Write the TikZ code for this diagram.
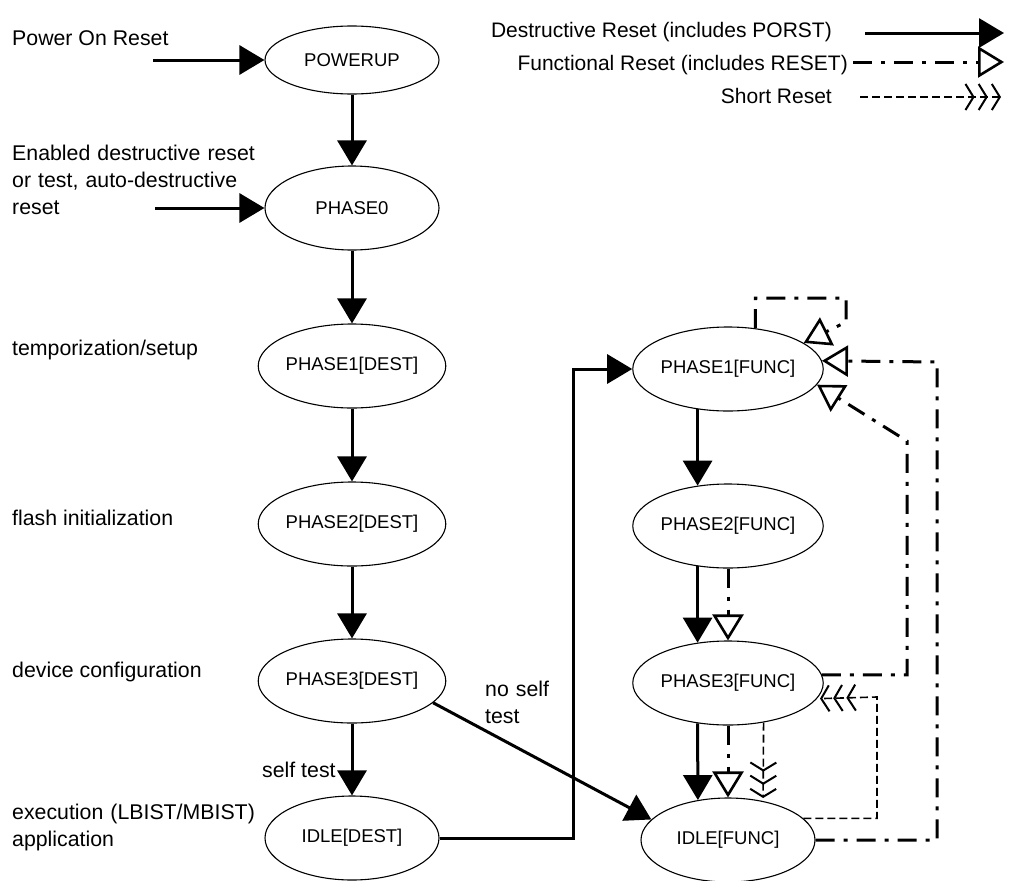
\documentclass[tikz,border=0pt]{standalone}
\usepackage{fontspec}
\setmainfont{Liberation Sans}
\usetikzlibrary{shapes.geometric,arrows.meta}
\begin{document}
\begin{tikzpicture}[x=1pt,y=-1pt,
  state/.style={ellipse,draw,line width=1.1pt,minimum width=174pt,minimum height=84pt,inner sep=0pt,font=\fontsize{18.5pt}{22pt}\selectfont},
  lbl/.style={anchor=base west,inner sep=0pt,font=\fontsize{21.3pt}{27pt}\selectfont},
  lblr/.style={anchor=base east,inner sep=0pt,font=\fontsize{21pt}{26pt}\selectfont},
  dest/.style={line width=3pt,-{Triangle[length=25pt,width=29pt]}},
  func/.style={line width=3pt,dash pattern=on 19pt off 9pt on 4pt off 9pt,-{Triangle[fill=white,length=26pt,width=31pt,line width=2.6pt]}},
  barb/.style={-{Straight Barb[length=8pt,width=26pt,sep=3pt,line width=2pt] Straight Barb[length=8pt,width=26pt,sep=3pt,line width=2pt] Straight Barb[length=8pt,width=26pt,sep=3pt,line width=2pt]}},
  short/.style={line width=1.6pt,dash pattern=on 8pt off 4pt,barb},
]
\useasboundingbox (0,0) rectangle (1010,881);

% states
\node[state,minimum height=68pt] (pu) at (352,60) {POWERUP};
\node[state] (p0) at (352,208) {PHASE0};
\node[state] (p1d) at (352,366) {PHASE1[DEST]};
\node[state] (p2d) at (352,524) {PHASE2[DEST]};
\node[state] (p3d) at (352,681) {PHASE3[DEST]};
\node[state] (idd) at (352,838) {IDLE[DEST]};
\node[state] (p1f) at (728,369) {PHASE1[FUNC]};
\node[state] (p2f) at (728,526) {PHASE2[FUNC]};
\node[state] (p3f) at (728,683) {PHASE3[FUNC]};
\node[state] (idf) at (728,840) {IDLE[FUNC]};

% left labels
\node[lbl] (tpor) at (12,45) {Power On Reset};
\node[lbl,text width=260pt,align=left] (tedr) at (12,160) {Enabled destructive reset\\or test, auto-destructive\\reset};
\node[lbl] (ttemp) at (12,355) {temporization/setup};
\node[lbl] (tflash) at (12,525) {flash initialization};
\node[lbl] (tdev) at (12,677) {device configuration};
\node[lbl,text width=260pt,align=left] (texec) at (12,819) {execution (LBIST/MBIST)\\application};
\node[lbl] (tself) at (262,777) {self test};
\node[lbl,text width=100pt,align=left] (tnst) at (485,696) {no self\\test};

% legend
\node[lblr] (l1) at (832,37) {Destructive Reset (includes PORST)};
\node[lblr] (l2) at (848,70) {Functional Reset (includes RESET)};
\node[lblr] (l3) at (832,103) {Short Reset};
\coordinate (l1a) at (865,33); \coordinate (l1b) at (1004,33);
\coordinate (l2a) at (853,62); \coordinate (l2b) at (1004,62);
\coordinate (l3a) at (860,97); \coordinate (l3b) at (1004,97);
\draw[dest] (l1a) -- (l1b);
\draw[func] (l2a) -- (l2b);
\draw[short] (l3a) -- (l3b);

% inputs
\coordinate (in1) at (153,60);
\coordinate (in2) at (155,208);
\draw[dest] (in1) -- (pu.west);
\draw[dest] (in2) -- (p0.west);

% destructive chain
\draw[dest] (pu) -- (p0);
\draw[dest] (p0) -- (p1d);
\draw[dest] (p1d) -- (p2d);
\draw[dest] (p2d) -- (p3d);
\draw[dest] (p3d) -- (idd);
\coordinate (j1) at (573,369);
\draw[dest] (idd.east) -| (j1) -- (p1f.west);
\draw[dest] (p3d.-15) -- (idf.165);

% functional chain
\draw[dest] (p1f.233) -- (p2f.127);
\draw[dest] (p2f.233) -- (p3f.127);
\draw[func] (p2f.south) -- (p3f.north);
\draw[dest] (p3f.233) -- (idf.127);
\draw[func] (p3f.south) -- (idf.north);
\draw[short] (p3f.-48) -- (idf.48);

% loops
\coordinate (c1) at (846,298);
\coordinate (c2) at (846,322);
\draw[func] (p1f.56) |- (c1) -- (c2) -- (p1f.19);
\coordinate (c3) at (937,362);
\draw[func] (idf.east) -| (c3) -- (p1f.5);
\coordinate (c4) at (907,441);
\draw[func] (p3f.5) -| (c4) -- (p1f.-10);
\coordinate (c5) at (877,697);
\draw[short] (idf.16) -| (c5) -- (p3f.-10);
\end{tikzpicture}
\end{document}
